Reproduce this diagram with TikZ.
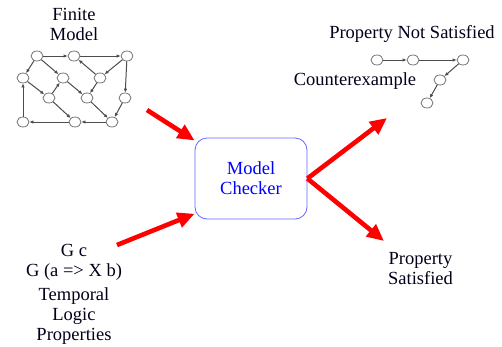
\documentclass[tikz,border=0pt]{standalone}
\usepackage{fontspec}
\setmainfont{Liberation Serif}
\newfontfamily\timesface{Liberation Serif}
\usepackage{tikz}
\usetikzlibrary{arrows.meta, shapes.geometric, calc}

\begin{document}
\begin{tikzpicture}[x=1pt, y=-1pt,
    txt/.style={font=\timesface\fontsize{18.5}{20}\selectfont, text=black!90!blue, align=center, inner sep=0pt},
    st/.style={draw=black!55, line width=0.8pt, ellipse, minimum width=12pt, minimum height=10pt, inner sep=0pt, fill=white},
    tr/.style={line width=1pt, -{Latex[length=4pt, width=3.5pt]}, black!70},
    bigarrow/.style={draw=red, line width=4.6pt, -{Triangle[length=17pt, width=15pt]}}]
  \useasboundingbox (0,0) rectangle (502,346);

  % Finite model (state graph)
  \node[txt] (fmlabel) at (74,24) {Finite\\Model};
  \node[st] (sA) at (37,56) {};
  \node[st] (sB) at (74,56) {};
  \node[st] (sC) at (127,56) {};
  \node[st] (sD) at (23,78) {};
  \node[st] (sE) at (63,78) {};
  \node[st] (sF) at (100,78) {};
  \node[st] (sG) at (49,98) {};
  \node[st] (sH) at (87,98) {};
  \node[st] (sI) at (125,98) {};
  \node[st] (sJ) at (23,122) {};
  \node[st] (sK) at (75,122) {};
  \node[st] (sL) at (112,122) {};

  % Transitions
  \draw[tr] (sA) -- (sB);
  \draw[tr] (sB) -- (sC);
  \draw[tr] (sA) -- (sD);
  \draw[tr] (sA) -- (sE);
  \draw[tr] (sC) -- (sF);
  \draw[tr] (sF) -- (sB);
  \draw[tr] (sC) -- (sI);
  \draw[tr] (sD) -- (sG);
  \draw[tr] (sG) -- (sE);
  \draw[tr] (sE) -- (sH);
  \draw[tr] (sF) -- (sH);
  \draw[tr] (sG) -- (sK);
  \draw[tr] (sH) -- (sL);
  \draw[tr] (sI) -- (sL);
  \draw[tr] (sL) -- (sK);
  \draw[tr] (sK) -- (sJ);
  \draw[tr] (sJ) -- (sD);

  % Model checker
  \node[txt, draw=blue!60, line width=0.8pt, rounded corners=12pt, text=blue,
        minimum width=112pt, minimum height=81pt] (mc) at (251,178.5) {Model\\Checker};

  % Temporal logic properties
  \node[txt] (formulas) at (74,262) {G c\\G (a => X b)};
  \node[txt] (tlp) at (74,316.5) {Temporal\\Logic\\Properties};

  % Counterexample trace
  \node[txt] (notsat) at (412,34) {Property Not Satisfied};
  \node[txt] (cex) at (355,81) {Counterexample};
  \node[st] (c1) at (377,60) {};
  \node[st] (c2) at (413,60) {};
  \node[st] (c3) at (463,60) {};
  \node[st] (c4) at (440,80) {};
  \node[st] (c5) at (427,103) {};
  \draw[tr] (c1) -- (c2);
  \draw[tr] (c2) -- (c3);
  \draw[tr] (c3) -- (c4);
  \draw[tr] (c4) -- (c5);

  % Property satisfied
  \node[txt] (sat) at (420.5,268.5) {Property\\Satisfied};

  % Big red arrows
  \coordinate (fmout) at (147,110);
  \coordinate (tlout) at (117,245);
  \coordinate (failend) at (387,118);
  \coordinate (okend) at (384,241);
  \draw[bigarrow] (fmout) -- (mc.146);
  \draw[bigarrow] (tlout) -- (mc.212);
  \draw[bigarrow] (mc.east) -- (failend);
  \draw[bigarrow] (mc.east) -- (okend);

\end{tikzpicture}
\end{document}
